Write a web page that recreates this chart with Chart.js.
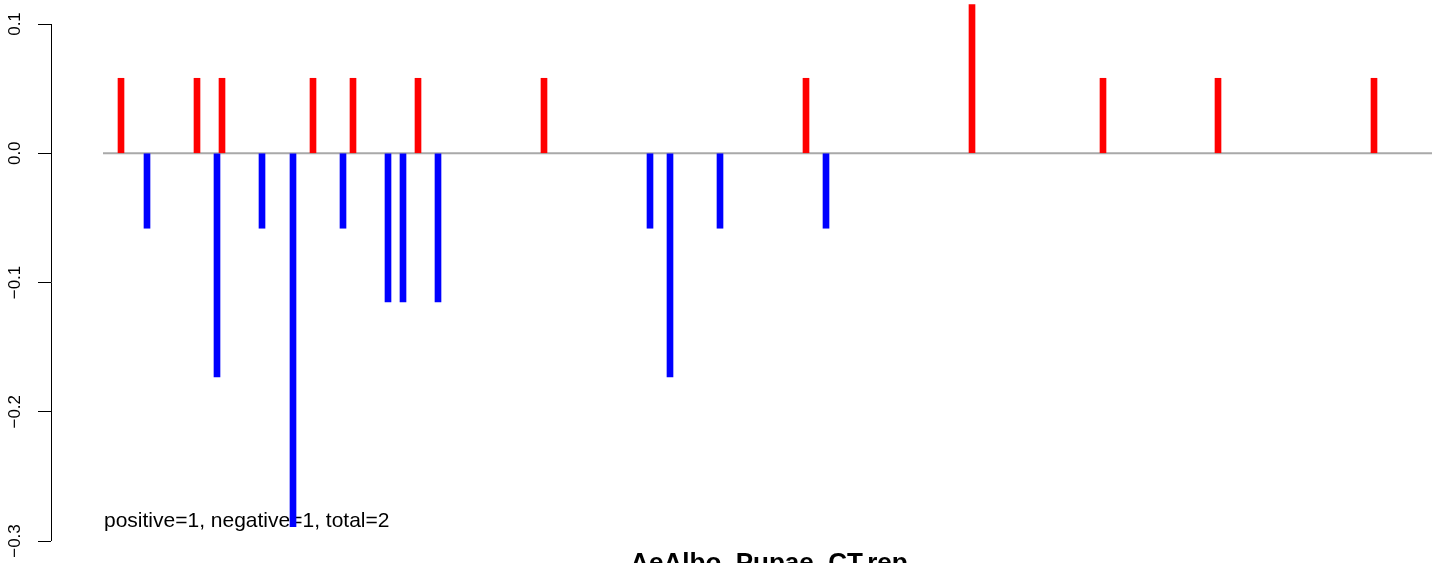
<!DOCTYPE html>
<html>
<head>
<meta charset="utf-8">
<script src="https://cdn.jsdelivr.net/npm/chart.js@4/dist/chart.umd.min.js"></script>
<style>
    body { margin: 0; background: #fff; }
    canvas { display: block; }
</style>
</head>
<body>
<canvas id="repChart" width="1441" height="563"></canvas>
<script>
// Tick values and labels for the y axis
const tickValues = [-0.3, -0.2, -0.1, 0.0, 0.1];
const tickLabels = ["\u22120.3", "\u22120.2", "\u22120.1", "0.0", "0.1"];

// Positive (red) spikes: position along the sequence, value
const posPositions = [18, 94, 119, 210, 250, 315, 441, 703, 869, 1000, 1115, 1271];
const posValues = [0.058, 0.058, 0.058, 0.058, 0.058, 0.058, 0.058, 0.058, 0.115, 0.058, 0.058, 0.058];

// Negative (blue) spikes
const negPositions = [44, 114, 159, 190, 240, 285, 300, 335, 547, 567, 617, 723];
const negValues = [-0.058, -0.173, -0.058, -0.289, -0.058, -0.115, -0.115, -0.115, -0.058, -0.173, -0.058, -0.058];

// Extent of the zero line
const baselineRange = [0, 1329];

const noteText = "positive=1, negative=1, total=2";
const titleText = "AeAlbo_Pupae_CT.rep";

const fontFamily = "'Liberation Sans', Arial, Helvetica, sans-serif";

// Draws the note under the bars, and axis line, tick labels and title on top
const decorPlugin = {
    id: "decor",
    beforeDatasetsDraw(chart) {
        const ctx = chart.ctx;
        ctx.save();
        ctx.fillStyle = "#000";
        ctx.font = "21px " + fontFamily;
        ctx.textAlign = "left";
        ctx.textBaseline = "alphabetic";
        ctx.fillText(noteText, 104, 527);
        ctx.restore();
    },
    afterDraw(chart) {
        const ctx = chart.ctx;
        const y = chart.scales.y;
        const left = chart.chartArea.left;
        ctx.save();

        // axis line only spans the tick range, like R
        ctx.strokeStyle = "#000";
        ctx.lineWidth = 1;
        ctx.beginPath();
        ctx.moveTo(left + 0.5, y.getPixelForValue(tickValues[tickValues.length - 1]));
        ctx.lineTo(left + 0.5, y.getPixelForValue(tickValues[0]));
        ctx.stroke();

        // rotated tick labels
        ctx.fillStyle = "#000";
        ctx.font = "17px " + fontFamily;
        ctx.textAlign = "center";
        ctx.textBaseline = "alphabetic";
        tickValues.forEach((v, i) => {
            ctx.save();
            ctx.translate(20, y.getPixelForValue(v));
            ctx.rotate(-Math.PI / 2);
            ctx.fillText(tickLabels[i], 0, 0);
            ctx.restore();
        });

        // title, cut off at the bottom edge
        ctx.font = "bold 26px " + fontFamily;
        ctx.textAlign = "center";
        ctx.fillText(titleText, 769, 571);
        ctx.restore();
    }
};

const chart = new Chart(document.getElementById("repChart"), {
    type: "bar",
    data: {
        datasets: [
            {
                type: "line",
                data: baselineRange.map(x => ({ x: x, y: 0 })),
                borderColor: "#A9A9A9",
                borderWidth: 2,
                pointRadius: 0,
                order: 2
            },
            {
                label: "positive",
                data: posPositions.map((x, i) => ({ x: x, y: posValues[i] })),
                backgroundColor: "#FF0000",
                barThickness: 6,
                grouped: false,
                order: 1
            },
            {
                label: "negative",
                data: negPositions.map((x, i) => ({ x: x, y: negValues[i] })),
                backgroundColor: "#0000FF",
                barThickness: 6,
                grouped: false,
                order: 1
            }
        ]
    },
    options: {
        responsive: false,
        animation: false,
        layout: { padding: 0 },
        plugins: {
            legend: { display: false },
            tooltip: { enabled: false }
        },
        scales: {
            x: {
                type: "linear",
                display: false,
                offset: false,
                min: -52,
                max: 1338
            },
            y: {
                min: -0.31702,
                max: 0.11857,
                afterBuildTicks: scale => {
                    scale.ticks = tickValues.map(v => ({ value: v }));
                },
                afterFit: scale => {
                    scale.width = 51;
                },
                ticks: { display: false },
                border: { display: false },
                grid: {
                    drawOnChartArea: false,
                    drawTicks: true,
                    tickLength: 13,
                    color: "#000",
                    lineWidth: 1
                }
            }
        }
    },
    plugins: [decorPlugin]
});
</script>
</body>
</html>
